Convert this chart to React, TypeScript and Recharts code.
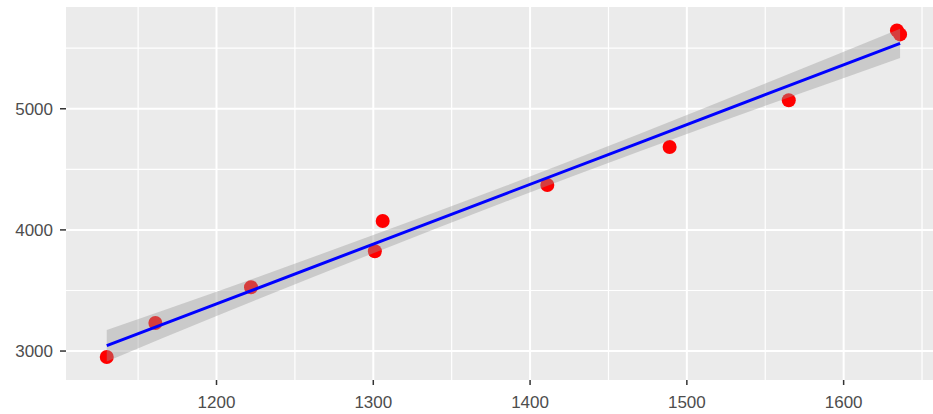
import { ComposedChart, Scatter, Line, Area, XAxis, YAxis, CartesianGrid } from "recharts";

// observed points
const pointX = [1130, 1161, 1222, 1301, 1306, 1411, 1489, 1565, 1634, 1636];
const pointY = [2951, 3231, 3527, 3824, 4074, 4371, 4684, 5070, 5647, 5614];

// fitted line + confidence band
const fitX = [1130, 1200, 1300, 1385, 1470, 1550, 1636];
const fitY = [3044, 3389, 3883, 4302, 4721, 5116, 5540];
const bandLow = [2914, 3289, 3808, 4237, 4649, 5024, 5420];
const bandHigh = [3174, 3489, 3958, 4367, 4793, 5208, 5660];

const xTicks = [1200, 1300, 1400, 1500, 1600];
const xMinor = [1150, 1250, 1350, 1450, 1550, 1650];
const yTicks = [3000, 4000, 5000];
const yMinor = [3500, 4500, 5500];

const points = pointX.map((x, i) => ({ x, y: pointY[i] }));
const fit = fitX.map((x, i) => ({ x, y: fitY[i], band: [bandLow[i], bandHigh[i]] }));

const tickStyle = { fontSize: 17, fill: "#4d4d4d", fontFamily: "Liberation Sans, Arial, sans-serif" };

export default function App() {
  return (
    <div style={{ position: "absolute", left: 0, top: 0 }}>
      <ComposedChart width={933} height={414} data={fit} margin={{ top: 7, right: 0, left: 0, bottom: 0 }}>
        <CartesianGrid
          fill="#ebebeb"
          fillOpacity={1}
          stroke="#ffffff"
          strokeWidth={1.2}
          horizontalValues={yMinor}
          verticalValues={xMinor}
        />
        <CartesianGrid stroke="#ffffff" strokeWidth={2} horizontalValues={yTicks} verticalValues={xTicks} />
        <XAxis
          type="number"
          dataKey="x"
          domain={[1104, 1657]}
          allowDataOverflow
          ticks={xTicks}
          tick={tickStyle}
          tickSize={5}
          tickMargin={11}
          tickLine={{ stroke: "#333333", strokeWidth: 1.5 }}
          axisLine={false}
          height={34}
        />
        <YAxis
          type="number"
          domain={[2761, 5840]}
          allowDataOverflow
          ticks={yTicks}
          tick={tickStyle}
          tickSize={6}
          tickMargin={7}
          tickLine={{ stroke: "#333333", strokeWidth: 1.5 }}
          axisLine={false}
          width={66}
        />
        <Scatter
          data={points}
          dataKey="y"
          zIndex={50}
          isAnimationActive={false}
          shape={(p: any) => <circle cx={p.cx} cy={p.cy} r={7} fill="#ff0000" />}
        />
        <Area
          dataKey="band"
          type="monotone"
          stroke="none"
          fill="#999999"
          fillOpacity={0.4}
          dot={false}
          activeDot={false}
          isAnimationActive={false}
        />
        <Line
          dataKey="y"
          type="linear"
          stroke="#0000ff"
          strokeWidth={3}
          dot={false}
          activeDot={false}
          isAnimationActive={false}
        />
      </ComposedChart>
    </div>
  );
}
